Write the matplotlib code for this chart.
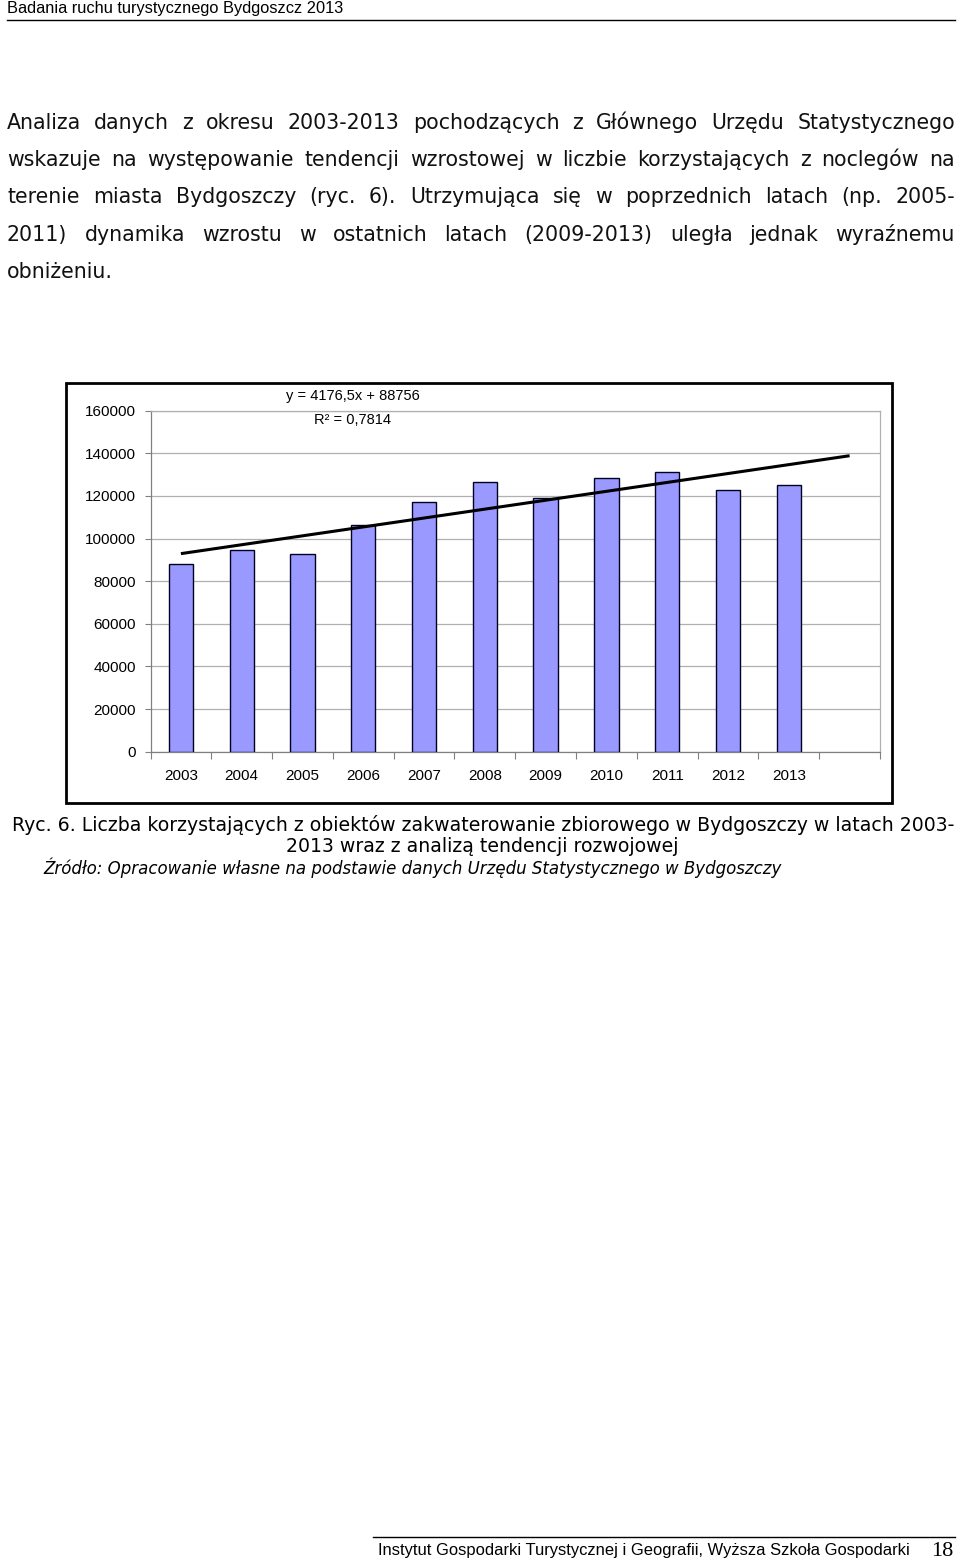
import matplotlib
matplotlib.use("Agg")
import matplotlib.pyplot as plt
import numpy as np
from matplotlib.patches import Rectangle
from matplotlib.lines import Line2D

# ---------------- data ----------------
years = ["2003", "2004", "2005", "2006", "2007", "2008", "2009", "2010", "2011", "2012", "2013"]
visitors = [88000, 94600, 92900, 106300, 117300, 126500, 119200, 128400, 131350, 122900, 125250]
trend_slope = 4176.5
trend_intercept = 88756
trend_r2 = 0.7814
trend_x = [1, 12]          # Excel-style x index (2003 = 1), forecast one period forward
y_ticks = [0, 20000, 40000, 60000, 80000, 100000, 120000, 140000, 160000]

header_text = "Badania ruchu turystycznego Bydgoszcz 2013"
body_lines = [
    "Analiza danych z okresu 2003-2013 pochodzących z Głównego Urzędu Statystycznego",
    "wskazuje na występowanie tendencji wzrostowej w liczbie korzystających z noclegów na",
    "terenie miasta Bydgoszczy (ryc. 6). Utrzymująca się w poprzednich latach (np. 2005-",
    "2011) dynamika wzrostu w ostatnich latach (2009-2013) uległa jednak wyraźnemu",
    "obniżeniu.",
]
caption_line1 = "Ryc. 6. Liczba korzystających z obiektów zakwaterowanie zbiorowego w Bydgoszczy w latach 2003-"
caption_line2 = "2013 wraz z analizą tendencji rozwojowej"
source_text = "Źródło: Opracowanie własne na podstawie danych Urzędu Statystycznego w Bydgoszczy"
footer_text = "Instytut Gospodarki Turystycznej i Geografii, Wyższa Szkoła Gospodarki"
page_number = "18"

# ---------------- figure ----------------
W, H = 960, 1561
fig = plt.figure(figsize=(W / 100, H / 100), dpi=100)
fig.patch.set_facecolor("white")
renderer = fig.canvas.get_renderer()


def fx(x):
    return x / W


def fy(y):
    return 1 - y / H


def justify(line, y_base, x0, x1, **kw):
    words = line.split(" ")
    texts = [fig.text(0, 0, w, ha="left", va="baseline", **kw) for w in words]
    widths = [t.get_window_extent(renderer).width for t in texts]
    gap = (x1 - x0 - sum(widths)) / max(len(words) - 1, 1)
    x = x0
    for t, w in zip(texts, widths):
        t.set_position((fx(x), fy(y_base)))
        x += w + gap


body_font = dict(family="DejaVu Sans", fontsize=14.8, color="#111111")

# header
fig.text(fx(7), fy(8), header_text, family="Liberation Sans", fontsize=11.8,
         ha="left", va="center", color="black")
fig.add_artist(Line2D([fx(7), fx(955)], [fy(19.5), fy(19.5)], transform=fig.transFigure,
                      color="black", lw=1))

# body paragraph (baselines)
body_base = [129, 166, 203, 241, 278]
for i, (ln, yy) in enumerate(zip(body_lines, body_base)):
    if i < len(body_lines) - 1:
        justify(ln, yy, 7, 955, **body_font)
    else:
        fig.text(fx(7), fy(yy), ln, ha="left", va="baseline", **body_font)

# ---------------- chart ----------------
ax_left, ax_right, ax_top, ax_bottom = 150.5, 880, 410.7, 751.7
ax = fig.add_axes([fx(ax_left), fy(ax_bottom), (ax_right - ax_left) / W, (ax_bottom - ax_top) / H])
pos = np.arange(len(years))
ax.bar(pos, visitors, width=0.40, color="#9999FF", edgecolor="#000022", linewidth=1.0, zorder=3)
tx = np.array(trend_x, dtype=float)
ax.plot(tx - 1, trend_slope * tx + trend_intercept, color="black", lw=2.2, zorder=4,
        solid_capstyle="butt")

ax.set_xlim(-0.5, len(years) + 0.5)
ax.set_ylim(0, 160000)
ax.set_yticks(y_ticks)
ax.set_yticklabels([str(v) for v in y_ticks], family="Liberation Sans", fontsize=11)
ax.set_xticks(pos)
ax.set_xticklabels(years, family="Liberation Sans", fontsize=11)
ax.set_xticks(np.arange(-0.5, len(years) + 1.0, 1.0), minor=True)
ax.tick_params(axis="x", which="major", length=0, pad=12.5)
ax.tick_params(axis="x", which="minor", length=5, color="#808080", width=0.8)
ax.tick_params(axis="y", length=4, color="#808080", width=0.8, pad=6.5)
ax.yaxis.grid(True, color="#B0B0B0", lw=0.9, zorder=0)
ax.set_axisbelow(True)
for s in ["top", "right"]:
    ax.spines[s].set_color("#B0B0B0")
    ax.spines[s].set_linewidth(0.9)
for s in ["left", "bottom"]:
    ax.spines[s].set_color("#808080")
    ax.spines[s].set_linewidth(0.9)

# trendline equation labels
eq = "y = " + f"{trend_slope}".replace(".", ",") + "x + " + f"{trend_intercept}"
fig.text(fx(353), fy(396), eq, family="Liberation Sans", fontsize=10.5, ha="center", va="center")
fig.text(fx(353), fy(420), "R² = " + f"{trend_r2}".replace(".", ","), family="Liberation Sans",
         fontsize=10.5, ha="center", va="center")

# outer chart frame
fig.add_artist(Rectangle((fx(66), fy(803)), (892 - 66) / W, (803 - 383) / H,
                         transform=fig.transFigure, fill=False, edgecolor="black", lw=2.0))

# ---------------- caption ----------------
cap_font = dict(family="DejaVu Sans", fontsize=13.6, color="black")
fig.text(fx(483), fy(825), caption_line1, ha="center", va="center", **cap_font)
fig.text(fx(482), fy(846), caption_line2, ha="center", va="center", **cap_font)
fig.text(fx(43), fy(868), source_text, ha="left", va="center", style="italic",
         family="DejaVu Sans", fontsize=11.95, color="black")

# ---------------- footer ----------------
fig.add_artist(Line2D([fx(373), fx(955)], [fy(1537), fy(1537)], transform=fig.transFigure,
                      color="black", lw=1))
fig.text(fx(378), fy(1551), footer_text, family="Liberation Sans", fontsize=11.9,
         ha="left", va="center", color="black")
fig.text(fx(953), fy(1552), page_number, family="Liberation Serif", fontsize=16,
         ha="right", va="center", color="black")

fig.savefig("out.png", dpi=100, facecolor="white")
